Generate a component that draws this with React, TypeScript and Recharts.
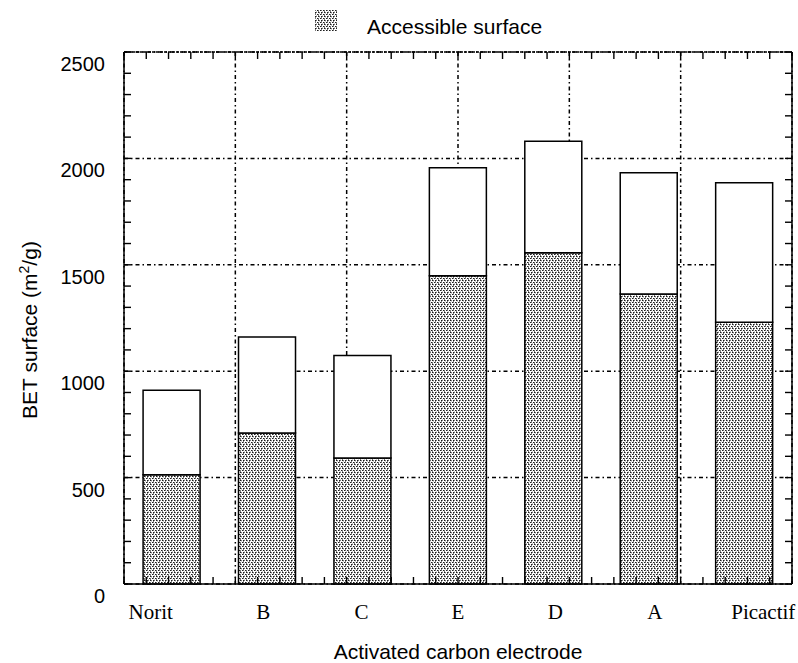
import React from "react";
import {
  Bar,
  BarChart,
  CartesianGrid,
  Legend,
  XAxis,
  YAxis,
} from "recharts";

// Activated carbon electrodes, in plotting order
const electrodes = ["Norit", "B", "C", "E", "D", "A", "Picactif"];
// Total BET surface (m2/g)
const totalSurface = [911, 1161, 1074, 1956, 2081, 1933, 1886];
// Part of it accessible to the electrolyte (m2/g)
const accessibleSurface = [513, 710, 592, 1449, 1557, 1363, 1230];

const yMajorTicks = [0, 500, 1000, 1500, 2000, 2500];
const yMinorTicks = Array.from({ length: 26 }, (_, i) => i * 100);
const xMinorTicks = Array.from({ length: 36 }, (_, i) => i / 5);
const xBoundaryTicks = [0, 1, 2, 3, 4, 5, 6, 7];

const data = electrodes.map((name, i) => ({
  name,
  accessible: accessibleSurface[i],
  rest: totalSurface[i] - accessibleSurface[i],
}));

const SANS = "'Liberation Sans', Arial, sans-serif";
const SERIF = "'Liberation Serif', 'Times New Roman', serif";
const GRID_DASH = "4 3 1.5 3";

// small horizontal shifts so the outer names sit like the original figure
const tickNudge = [-21, -4, -1, 0, 2, 6, 19];

// stippled grey fill used for the accessible part
function DotPattern({ id }: { id: string }) {
  const k = "#1e1e1e";
  const g = "#777777";
  return (
    <pattern id={id} width={6} height={4} patternUnits="userSpaceOnUse">
      <rect width={6} height={4} fill="#ffffff" />
      <rect x={0} y={0} width={1} height={1} fill={k} />
      <rect x={1} y={0} width={1} height={1} fill={g} />
      <rect x={3} y={0} width={1} height={1} fill={k} />
      <rect x={4} y={0} width={1} height={1} fill={g} />
      <rect x={2} y={2} width={1} height={1} fill={k} />
      <rect x={3} y={2} width={1} height={1} fill={g} />
      <rect x={5} y={2} width={1} height={1} fill={k} />
      <rect x={0} y={2} width={1} height={1} fill={g} />
      <rect x={1} y={1} width={1} height={1} fill="#d0d0d0" />
      <rect x={4} y={3} width={1} height={1} fill="#d0d0d0" />
      <rect x={3} y={1} width={1} height={1} fill={g} />
      <rect x={0} y={3} width={1} height={1} fill={g} />
    </pattern>
  );
}

function EmptyTick() {
  return <g />;
}

function YLabelTick(props: any) {
  const { x, y, payload } = props;
  return (
    <text
      x={x - 19}
      y={y + 19}
      textAnchor="end"
      fontFamily={SANS}
      fontSize={20}
      fill="#000"
    >
      {payload.value}
    </text>
  );
}

function CategoryTick(props: any) {
  const { x, y, payload, index } = props;
  return (
    <text
      x={x + (tickNudge[index] ?? 0)}
      y={y + 35}
      textAnchor="middle"
      fontFamily={SERIF}
      fontSize={21}
      fill="#000"
    >
      {payload.value}
    </text>
  );
}

function YTitle(props: any) {
  const vb = props.viewBox ?? {};
  const cy = (vb.y ?? 52) + (vb.height ?? 532) / 2 + 12;
  return (
    <text
      transform={`translate(37, ${cy}) rotate(-90)`}
      textAnchor="middle"
      fontFamily={SANS}
      fontSize={21}
      fill="#000"
    >
      BET surface (m
      <tspan dy={-8} fontSize={14}>
        2
      </tspan>
      <tspan dy={8}>/g)</tspan>
    </text>
  );
}

function LegendBox() {
  return (
    <svg width={798} height={40} style={{ display: "block" }}>
      <defs>
        <DotPattern id="legendDots" />
      </defs>
      <rect x={315} y={10} width={22} height={21} fill="url(#legendDots)" />
      <text x={367} y={34} fontFamily={SANS} fontSize={21} fill="#000">
        Accessible surface
      </text>
    </svg>
  );
}

export default function App() {
  return (
    <div style={{ position: "absolute", left: 0, top: 0, background: "#fff" }}>
      <BarChart
        width={798}
        height={663}
        data={data}
        margin={{ top: 52, right: 6, bottom: 0, left: 0 }}
        barCategoryGap="20%"
      >
        <defs>
          <DotPattern id="accessDots" />
        </defs>
        <Legend
          layout="horizontal"
          align="center"
          verticalAlign="middle"
          content={<LegendBox />}
          wrapperStyle={{ top: 0, left: 0, width: 798, height: 40 }}
        />
        <CartesianGrid
          xAxisId="grid"
          yAxisId="left"
          stroke="#000"
          strokeWidth={1.5}
          strokeDasharray={GRID_DASH}
        />
        <Bar
          dataKey="accessible"
          stackId="s"
          xAxisId="cat"
          yAxisId="left"
          fill="url(#accessDots)"
          stroke="#000"
          strokeWidth={1.5}
          isAnimationActive={false}
        />
        <Bar
          dataKey="rest"
          stackId="s"
          xAxisId="cat"
          yAxisId="left"
          fill="#fff"
          stroke="#000"
          strokeWidth={1.5}
          isAnimationActive={false}
        />
        <XAxis
          xAxisId="cat"
          dataKey="name"
          height={79}
          interval={0}
          tickLine={false}
          tickSize={0}
          tickMargin={0}
          axisLine={{ stroke: "#000", strokeWidth: 1.5 }}
          tick={<CategoryTick />}
          label={{
            value: "Activated carbon electrode",
            position: "insideBottom",
            offset: 4,
            fontFamily: SANS,
            fontSize: 21,
            fill: "#000",
          }}
        />
        <XAxis
          xAxisId="grid"
          type="number"
          orientation="top"
          mirror
          height={10}
          domain={[0, 7]}
          allowDataOverflow
          ticks={xBoundaryTicks}
          tick={<EmptyTick />}
          tickLine={false}
          axisLine={false}
        />
        <XAxis
          xAxisId="frameTop"
          type="number"
          orientation="top"
          mirror
          height={10}
          domain={[0, 7]}
          allowDataOverflow
          ticks={xMinorTicks}
          interval={0}
          tick={<EmptyTick />}
          tickSize={7}
          tickLine={{ stroke: "#000", strokeWidth: 1.4 }}
          axisLine={{ stroke: "#000", strokeWidth: 1.5, strokeDasharray: "3 1" }}
        />
        <XAxis
          xAxisId="frameBottom"
          type="number"
          orientation="bottom"
          mirror
          height={10}
          domain={[0, 7]}
          allowDataOverflow
          ticks={xMinorTicks}
          interval={0}
          tick={<EmptyTick />}
          tickSize={7}
          tickLine={{ stroke: "#000", strokeWidth: 1.4 }}
          axisLine={false}
        />
        <YAxis
          yAxisId="left"
          width={124}
          domain={[0, 2500]}
          ticks={yMajorTicks}
          interval={0}
          tickLine={false}
          tickSize={0}
          tickMargin={0}
          axisLine={{ stroke: "#000", strokeWidth: 1.5 }}
          tick={<YLabelTick />}
          label={<YTitle />}
        />
        <YAxis
          yAxisId="leftMinor"
          orientation="left"
          mirror
          width={10}
          domain={[0, 2500]}
          allowDataOverflow
          ticks={yMinorTicks}
          interval={0}
          tick={<EmptyTick />}
          tickSize={7}
          tickLine={{ stroke: "#000", strokeWidth: 1.4 }}
          axisLine={false}
        />
        <YAxis
          yAxisId="right"
          orientation="right"
          mirror
          width={10}
          domain={[0, 2500]}
          allowDataOverflow
          ticks={yMinorTicks}
          interval={0}
          tick={<EmptyTick />}
          tickSize={7}
          tickLine={{ stroke: "#000", strokeWidth: 1.4 }}
          axisLine={{ stroke: "#000", strokeWidth: 1.5 }}
        />
      </BarChart>
    </div>
  );
}
